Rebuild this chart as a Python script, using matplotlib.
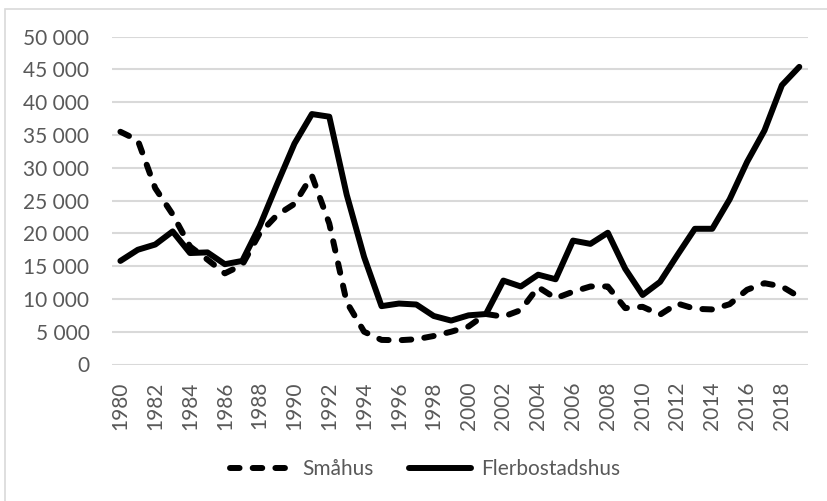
import numpy as np
import matplotlib.pyplot as plt
from matplotlib.patches import Rectangle
from matplotlib.lines import Line2D

# --- data ---
years = list(range(1980, 2020))
smahus = [35500, 34200, 26900, 22900, 18000, 16000, 13900, 15200, 20000, 22800,
          24500, 28800, 21500, 9500, 5000, 3750, 3700, 3850, 4350, 5000,
          5800, 7700, 7300, 8300, 11800, 10100, 11100, 11900, 11900, 8600,
          8800, 7600, 9300, 8500, 8400, 9200, 11400, 12400, 11900, 10300]
flerbostadshus = [15800, 17500, 18300, 20300, 17000, 17100, 15300, 15800, 21100, 27500,
                  33700, 38200, 37800, 25900, 16400, 8900, 9300, 9150, 7400, 6700,
                  7500, 7700, 12800, 11900, 13700, 13000, 18900, 18400, 20100, 14600,
                  10600, 12600, 16700, 20700, 20700, 25200, 30900, 35700, 42600, 45400]
yticks = list(range(0, 50001, 5000))
xticks = list(range(1980, 2019, 2))

plt.rcParams['font.family'] = ['Lato', 'DejaVu Sans']
grey_txt = '#595959'
grid_col = '#d9d9d9'
fs = 15

fig = plt.figure(figsize=(8.27, 5.01), dpi=100)
W, H = 827, 501

# ram runt diagrammet (beskuren till höger och nertill)
fig.patches.append(Rectangle((5 / W, -0.1), 1.2, (H - 9) / H + 0.1,
                             transform=fig.transFigure, fill=False,
                             edgecolor=grid_col, linewidth=1.2))

ax = fig.add_axes([111.7 / W, 1 - 364.5 / H, (808 - 111.7) / W, (364.5 - 36.7) / H])

lw = 4.3
dash = (0, (1.6, 2.2))
ax.plot(years, smahus, color='black', linewidth=lw, linestyle=dash,
        dash_capstyle='round', solid_joinstyle='round', label='Småhus')
ax.plot(years, flerbostadshus, color='black', linewidth=lw,
        solid_joinstyle='round', solid_capstyle='round', label='Flerbostadshus')

ax.set_xlim(1979.5, 2019.5)
ax.set_ylim(0, 50000)
ax.set_yticks(yticks)
ax.set_yticklabels([f'{v:,}'.replace(',', ' ') for v in yticks])
ax.set_xticks(xticks)
ax.set_xticklabels([str(y) for y in xticks], rotation=90)

ax.grid(axis='y', color=grid_col, linewidth=1.5)
ax.set_axisbelow(True)
for s in ax.spines.values():
    s.set_visible(False)
ax.tick_params(axis='both', length=0, labelsize=fs, labelcolor=grey_txt)
ax.tick_params(axis='y', pad=16)
ax.tick_params(axis='x', pad=12)

handles = [Line2D([], [], color='black', linewidth=lw, linestyle=dash,
                  dash_capstyle='round'),
           Line2D([], [], color='black', linewidth=lw, solid_capstyle='round')]
fig.legend(handles, ['Småhus', 'Flerbostadshus'], loc='center',
           bbox_to_anchor=(425 / W, 1 - 469 / H), ncol=2, frameon=False,
           fontsize=fs, labelcolor=grey_txt, handlelength=3.0,
           handletextpad=0.45, columnspacing=1.7)

fig.savefig('out.png', dpi=100)
